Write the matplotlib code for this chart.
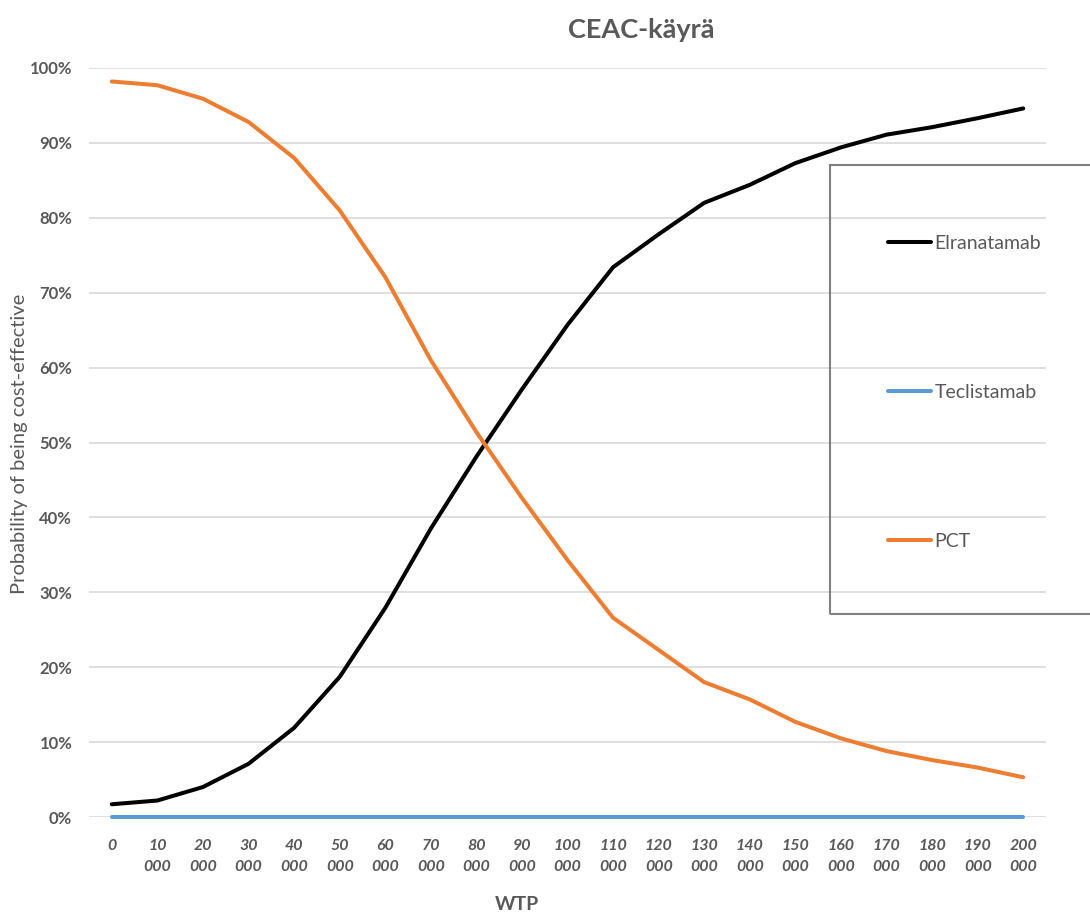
import matplotlib
matplotlib.use("Agg")
import matplotlib.pyplot as plt
from matplotlib.patches import Rectangle

plt.rcParams['font.family'] = ['Lato', 'DejaVu Sans']

## Data: probability of being cost-effective by willingness-to-pay ##
wtp = [0, 10000, 20000, 30000, 40000, 50000, 60000, 70000, 80000, 90000, 100000,
       110000, 120000, 130000, 140000, 150000, 160000, 170000, 180000, 190000, 200000]
elranatamab = [0.017, 0.022, 0.040, 0.071, 0.119, 0.187, 0.279, 0.385, 0.481, 0.571, 0.657,
               0.734, 0.778, 0.820, 0.844, 0.873, 0.894, 0.911, 0.921, 0.933, 0.946]
teclistamab = [0.0] * 21
pct = [0.982, 0.977, 0.959, 0.928, 0.880, 0.810, 0.721, 0.610, 0.514, 0.426, 0.343,
       0.266, 0.223, 0.180, 0.157, 0.127, 0.105, 0.088, 0.076, 0.066, 0.053]

grey = "#595959"

fig = plt.figure(figsize=(10.9, 9.18), dpi=100)
ax = fig.add_axes([89/1090, 101/918, (1046-89)/1090, (817-68)/918])

idx = list(range(len(wtp)))
ax.plot(idx, elranatamab, color="black", lw=2.9, label="Elranatamab", solid_capstyle="round", zorder=3)
ax.plot(idx, teclistamab, color="#5b9bd5", lw=2.9, label="Teclistamab", solid_capstyle="round",
        zorder=3, clip_on=False)
ax.plot(idx, pct, color="#ed7d31", lw=2.9, label="PCT", solid_capstyle="round", zorder=3)

ax.set_xlim(-0.5, len(wtp) - 0.5)
ax.set_ylim(0, 1)

yt = [i / 10 for i in range(11)]
ax.set_yticks(yt)
ax.set_yticklabels([f"{int(round(v*100))}%" for v in yt], fontsize=12, fontweight="bold", color=grey)
ax.set_xticks(idx)
xl = ["0" if v == 0 else f"{v // 1000}\n000" for v in wtp]
ax.set_xticklabels(xl, fontsize=11.5, fontweight="bold", fontstyle="italic", color=grey,
                   va="top", linespacing=1.6)
ax.tick_params(axis="both", length=0)
ax.tick_params(axis="y", pad=12)
ax.tick_params(axis="x", pad=16)
ax.grid(axis="y", color="#d9d9d9", lw=1.2)
ax.set_axisbelow(True)
for s in ax.spines.values():
    s.set_visible(False)

fig.text(20/1090, 1 - 444/918, "Probability of being cost-effective", fontsize=14.5, color=grey,
         rotation=90, ha="center", va="center")
fig.text(517/1090, 1 - 905/918, "WTP", fontsize=14, fontweight="bold", color=grey,
         ha="center", va="center")
fig.text(641/1090, 1 - 30/918, "CEAC-käyrä", fontsize=19.5, fontweight="bold", color=grey,
         ha="center", va="center")

## legend box sits on top of the plot, running off the right edge
fig.patches.append(Rectangle((830/1090, 1 - 614/918), 280/1090, (614-165)/918,
                             transform=fig.transFigure, fill=False, edgecolor="#808080",
                             lw=1.5, clip_on=False))
leg = ax.legend(loc="upper left", bbox_to_anchor=(878/1090, 1 - 225/918),
                bbox_transform=fig.transFigure, frameon=False, fontsize=14,
                handlelength=2.2, handletextpad=0.2, labelspacing=6.8, borderpad=0)
for t in leg.get_texts():
    t.set_color(grey)

fig.savefig("out.png", dpi=100, facecolor="white")
